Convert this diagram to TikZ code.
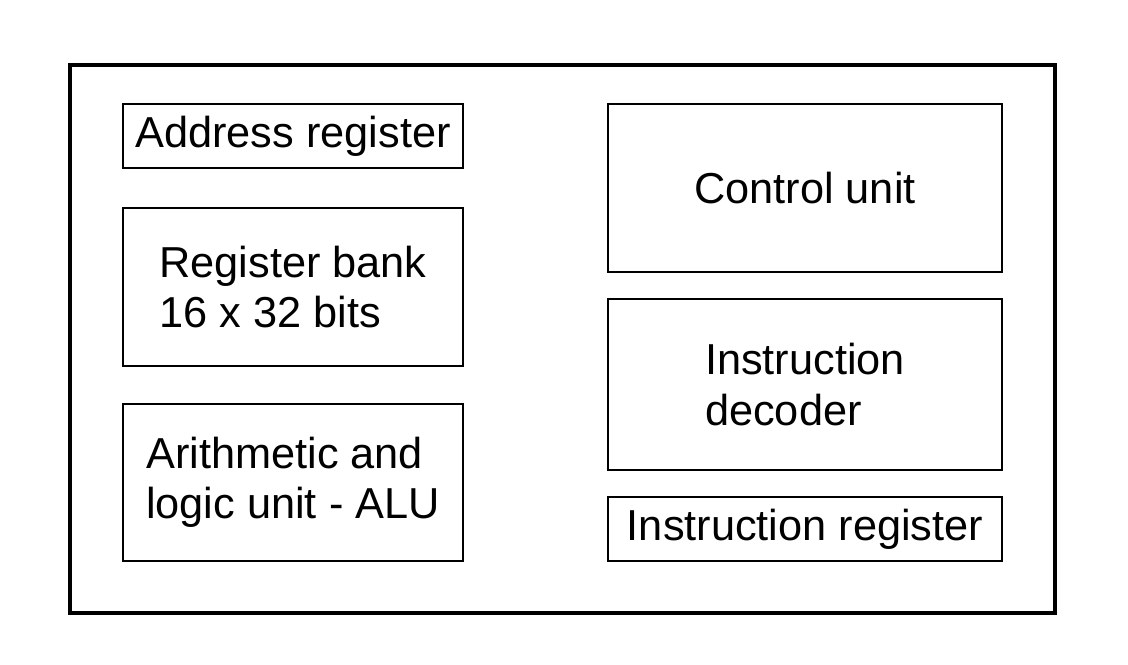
\documentclass[tikz,border=0pt]{standalone}
\usepackage{fontspec}
\setmainfont{Liberation Sans}
\begin{document}
\begin{tikzpicture}
    [x = 0.025cm, y = -0.025cm,
     every node/.style = {draw, line width = 1.4pt, align = left, inner sep = 0pt,
       font = \fontsize{30.8}{35.6}\selectfont},
     leftbox/.style = {minimum width = 8.5cm},
     rightbox/.style = {minimum width = 9.85cm}]
    \useasboundingbox (0,0) rectangle (1128,664);
    \node[line width = 2.8pt, minimum width = 24.625cm, minimum height = 13.7cm] (cpu) at (562.5,339) {};

    \node[leftbox, minimum height = 1.6cm] (addr) at (293,136) {Address register};
    \node[leftbox, minimum height = 3.95cm] (bank) at (293,287) {Register bank\\16 x 32 bits};
    \node[leftbox, minimum height = 3.925cm] (alu) at (293,482.5) {Arithmetic and\\logic unit - ALU};

    \node[rightbox, minimum height = 4.2cm] (ctrl) at (805,188) {Control unit};
    \node[rightbox, minimum height = 4.275cm] (dec) at (805,384.5) {Instruction\\decoder};
    \node[rightbox, minimum height = 1.6cm] (ir) at (805,529) {Instruction register};
  \end{tikzpicture}
\end{document}
